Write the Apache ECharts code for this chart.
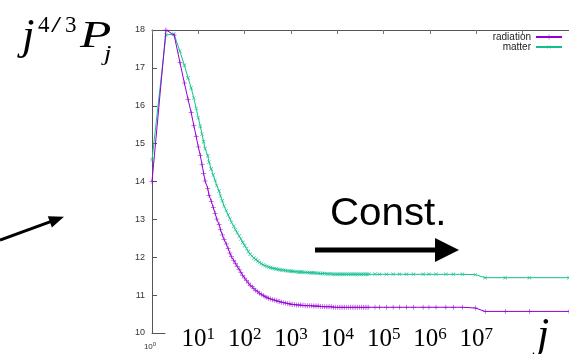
<!DOCTYPE html>
<html><head><meta charset="utf-8">
<script src="https://cdn.jsdelivr.net/npm/echarts@6/dist/echarts.min.js"></script>
<style>html,body{margin:0;padding:0;background:#fff}#c{width:569px;height:354px}</style>
</head><body><div id="c"></div>
<script>
// ---- data ----
const jValues = [1,2,3,4,5,6,7,8,9,
 10,11,12,13,14,16,17,19,21,23,25,28,30,33,36,40,44,48,52,58,63,69,76,83,91,
 100,110,120,132,145,158,174,191,209,229,251,275,302,331,363,398,437,479,525,575,631,692,759,832,912,
 1000,1096,1202,1318,1445,1585,1738,1905,2089,2291,2512,2754,3020,3311,3631,3981,4365,4786,5248,5754,6310,6918,7586,8318,9120,
 10000,10965,12023,13183,14454,15849,17378,19055,20893,22909,25119,27542,30200,33113,36308,39811,43652,47863,
 65000,81000,115000,160000,220000,310000,440000,710000,950000,1350000,2200000,3200000,5000000,9500000,15500000,42000000,140000000,1000000000];
const radiation = [14.0,18.0,17.87,17.15,16.60,16.17,15.82,15.48,15.18,
 14.91,14.69,14.45,14.22,14.01,13.82,13.64,13.48,13.31,13.16,13.01,12.87,12.73,12.59,12.47,12.35,12.23,12.11,12.01,11.92,11.84,11.76,11.68,11.60,11.52,
 11.45,11.38,11.32,11.26,11.22,11.17,11.13,11.09,11.05,11.02,10.99,10.96,10.94,10.92,10.90,10.88,10.87,10.85,10.84,10.83,10.81,10.80,10.79,10.78,10.77,
 10.76,10.75,10.75,10.74,10.74,10.74,10.73,10.73,10.72,10.72,10.72,10.72,10.71,10.71,10.71,10.71,10.70,10.70,10.69,10.69,10.69,10.69,10.69,10.68,10.68,
 10.68,10.68,10.68,10.68,10.68,10.68,10.68,10.68,10.68,10.68,10.68,10.68,10.68,10.68,10.68,10.68,10.68,10.68,
 10.68,10.68,10.68,10.68,10.68,10.68,10.68,10.68,10.68,10.68,10.68,10.68,10.68,10.66,10.57,10.57,10.57,10.57];
const matter = [14.57,17.87,17.89,17.44,17.07,16.74,16.47,16.20,15.93,
 15.68,15.46,15.25,15.05,14.87,14.68,14.51,14.33,14.17,14.03,13.89,13.75,13.62,13.49,13.35,13.23,13.12,13.02,12.92,12.82,12.73,12.65,12.56,12.48,12.39,
 12.31,12.23,12.15,12.08,12.03,11.98,11.94,11.90,11.86,11.83,11.80,11.78,11.76,11.74,11.73,11.71,11.70,11.69,11.68,11.67,11.66,11.66,11.65,11.64,11.64,
 11.63,11.63,11.62,11.62,11.61,11.61,11.61,11.60,11.60,11.60,11.59,11.59,11.59,11.58,11.58,11.58,11.57,11.57,11.57,11.56,11.56,11.56,11.56,11.55,11.55,
 11.55,11.55,11.55,11.55,11.55,11.55,11.55,11.55,11.55,11.55,11.55,11.55,11.55,11.55,11.55,11.55,11.55,11.55,
 11.55,11.55,11.55,11.55,11.55,11.55,11.55,11.55,11.55,11.55,11.55,11.55,11.55,11.54,11.46,11.46,11.46,11.46];
const seriesNames = ['radiation','matter'];
const yMin = 10, yMax = 18, yStep = 1;
const xMin = 1, xMax = 1e9;
const bigExponents = ['1','2','3','4','5','6','7'];
const constText = 'Const.';

const chart = echarts.init(document.getElementById('c'), null, {renderer:'canvas'});
const plusSym = 'path://M0,4.5H10V5.5H0Z M4.5,0H5.5V10H4.5Z';
const colR = '#9400d3', colM = '#12bf8f';
const axisCol = '#555';
const sans = 'Liberation Sans, Arial, sans-serif';
const serif = 'Liberation Serif, Times New Roman, serif';

function pairs(vals){ return jValues.map((j,i)=>[j, vals[i]]); }

chart.setOption({
  animation:false,
  grid:{left:152,right:-6,top:30,bottom:21},
  xAxis:[
    {type:'log',logBase:10,min:xMin,max:xMax,position:'bottom',
     axisLine:{lineStyle:{color:axisCol,width:1}},
     axisTick:{inside:true,length:5,lineStyle:{color:axisCol}},
     axisLabel:{show:false},splitLine:{show:false}},
    {type:'log',logBase:10,min:xMin,max:xMax,position:'top',
     axisLine:{lineStyle:{color:axisCol,width:1}},
     axisTick:{inside:true,length:4,lineStyle:{color:'#777'}},
     axisLabel:{show:false},splitLine:{show:false}}
  ],
  yAxis:[{type:'value',min:yMin,max:yMax,interval:yStep,
     axisLine:{show:true,lineStyle:{color:axisCol,width:1}},
     axisTick:{show:true,inside:true,length:5,lineStyle:{color:axisCol}},
     axisLabel:{fontSize:9,color:'#333',fontFamily:sans,margin:7},
     splitLine:{show:false}}],
  legend:[
    {data:[seriesNames[0]],right:6,top:32,padding:0,orient:'vertical',align:'right',itemWidth:26,itemHeight:6,
     textStyle:{fontSize:10,color:'#222',fontFamily:sans}},
    {data:[seriesNames[1]],right:6,top:42,padding:0,orient:'vertical',align:'right',itemWidth:26,itemHeight:6,
     textStyle:{fontSize:10,color:'#222',fontFamily:sans}}
  ],
  series:[
    {name:seriesNames[0],type:'line',data:pairs(radiation),color:colR,
     symbol:plusSym,symbolSize:5,showSymbol:true,showAllSymbol:true,
     lineStyle:{width:1,color:colR},itemStyle:{color:colR},z:3},
    {name:seriesNames[1],type:'line',data:pairs(matter),color:colM,
     symbol:plusSym,symbolRotate:45,symbolSize:5,showSymbol:true,showAllSymbol:true,
     lineStyle:{width:1,color:colM},itemStyle:{color:colM},z:2}
  ]
});

const px = v => chart.convertToPixel({xAxisIndex:0}, v);
const py = v => chart.convertToPixel({yAxisIndex:0}, v);
const yBottom = py(yMin);

const g = [];
g.push({type:'rect',shape:{x:px(2)-0.5,y:yBottom-14,width:569,height:60},style:{fill:'#fff'},z:50});
bigExponents.forEach(e=>{
  g.push({type:'text',x:px(Math.pow(10,+e)),y:yBottom+6,z:60,
    style:{text:'{b|10}{s|'+e+'}',align:'center',verticalAlign:'middle',
      rich:{b:{fontSize:25,fontFamily:serif,fill:'#000',lineHeight:26,verticalAlign:'bottom'},
            s:{fontSize:17,fontFamily:serif,fill:'#000',lineHeight:26,verticalAlign:'top'}}}});
});
g.push({type:'text',x:px(xMin)-2,y:yBottom+13,z:60,
  style:{text:'{b|10}{s|0}',align:'center',verticalAlign:'middle',
    rich:{b:{fontSize:8,fontFamily:sans,fill:'#333',lineHeight:9,verticalAlign:'bottom'},
          s:{fontSize:6,fontFamily:sans,fill:'#333',lineHeight:9,verticalAlign:'top'}}}});
// big j at bottom right
g.push({type:'text',x:537,y:336,z:60,style:{text:'j',fontSize:44,fontStyle:'italic',fontFamily:serif,fill:'#000',verticalAlign:'middle'}});
// header j^{4/3} P_j
g.push({type:'text',x:22,y:37,z:60,style:{text:'j',fontSize:45,fontStyle:'italic',fontFamily:serif,fill:'#000',verticalAlign:'middle'}});
g.push({type:'text',x:38,y:25.5,z:60,style:{text:'4',fontSize:23,fontFamily:serif,fill:'#000',verticalAlign:'middle'}});
g.push({type:'text',x:51,y:25.5,z:60,scaleX:1.6,style:{text:'/',fontSize:23,fontFamily:serif,fill:'#000',verticalAlign:'middle'}});
g.push({type:'text',x:65,y:25.5,z:60,style:{text:'3',fontSize:23,fontFamily:serif,fill:'#000',verticalAlign:'middle'}});
g.push({type:'text',x:80,y:37,scaleX:1.35,z:60,style:{text:'P',fontSize:38,fontStyle:'italic',fontFamily:serif,fill:'#000',verticalAlign:'middle'}});
g.push({type:'text',x:104,y:54,scaleX:1.2,z:60,style:{text:'j',fontSize:22,fontStyle:'italic',fontFamily:serif,fill:'#000',verticalAlign:'middle'}});
// Const. + arrow
g.push({type:'text',x:330,y:215,scaleX:1.06,z:60,style:{text:constText,fontSize:38,fontFamily:sans,fill:'#000',verticalAlign:'middle'}});
g.push({type:'rect',shape:{x:315,y:247.5,width:122,height:5},style:{fill:'#000'},z:60});
g.push({type:'polygon',shape:{points:[[435,238],[459,250],[435,262]]},style:{fill:'#000'},z:60});
// left arrow
g.push({type:'line',shape:{x1:0,y1:240,x2:52,y2:221.2},style:{stroke:'#000',lineWidth:3},z:60});
g.push({type:'polygon',shape:{points:[[64,216.7],[51.9,227.4],[47.8,216.2]]},style:{fill:'#000'},z:60});

chart.setOption({graphic:g});
</script>
</body></html>
